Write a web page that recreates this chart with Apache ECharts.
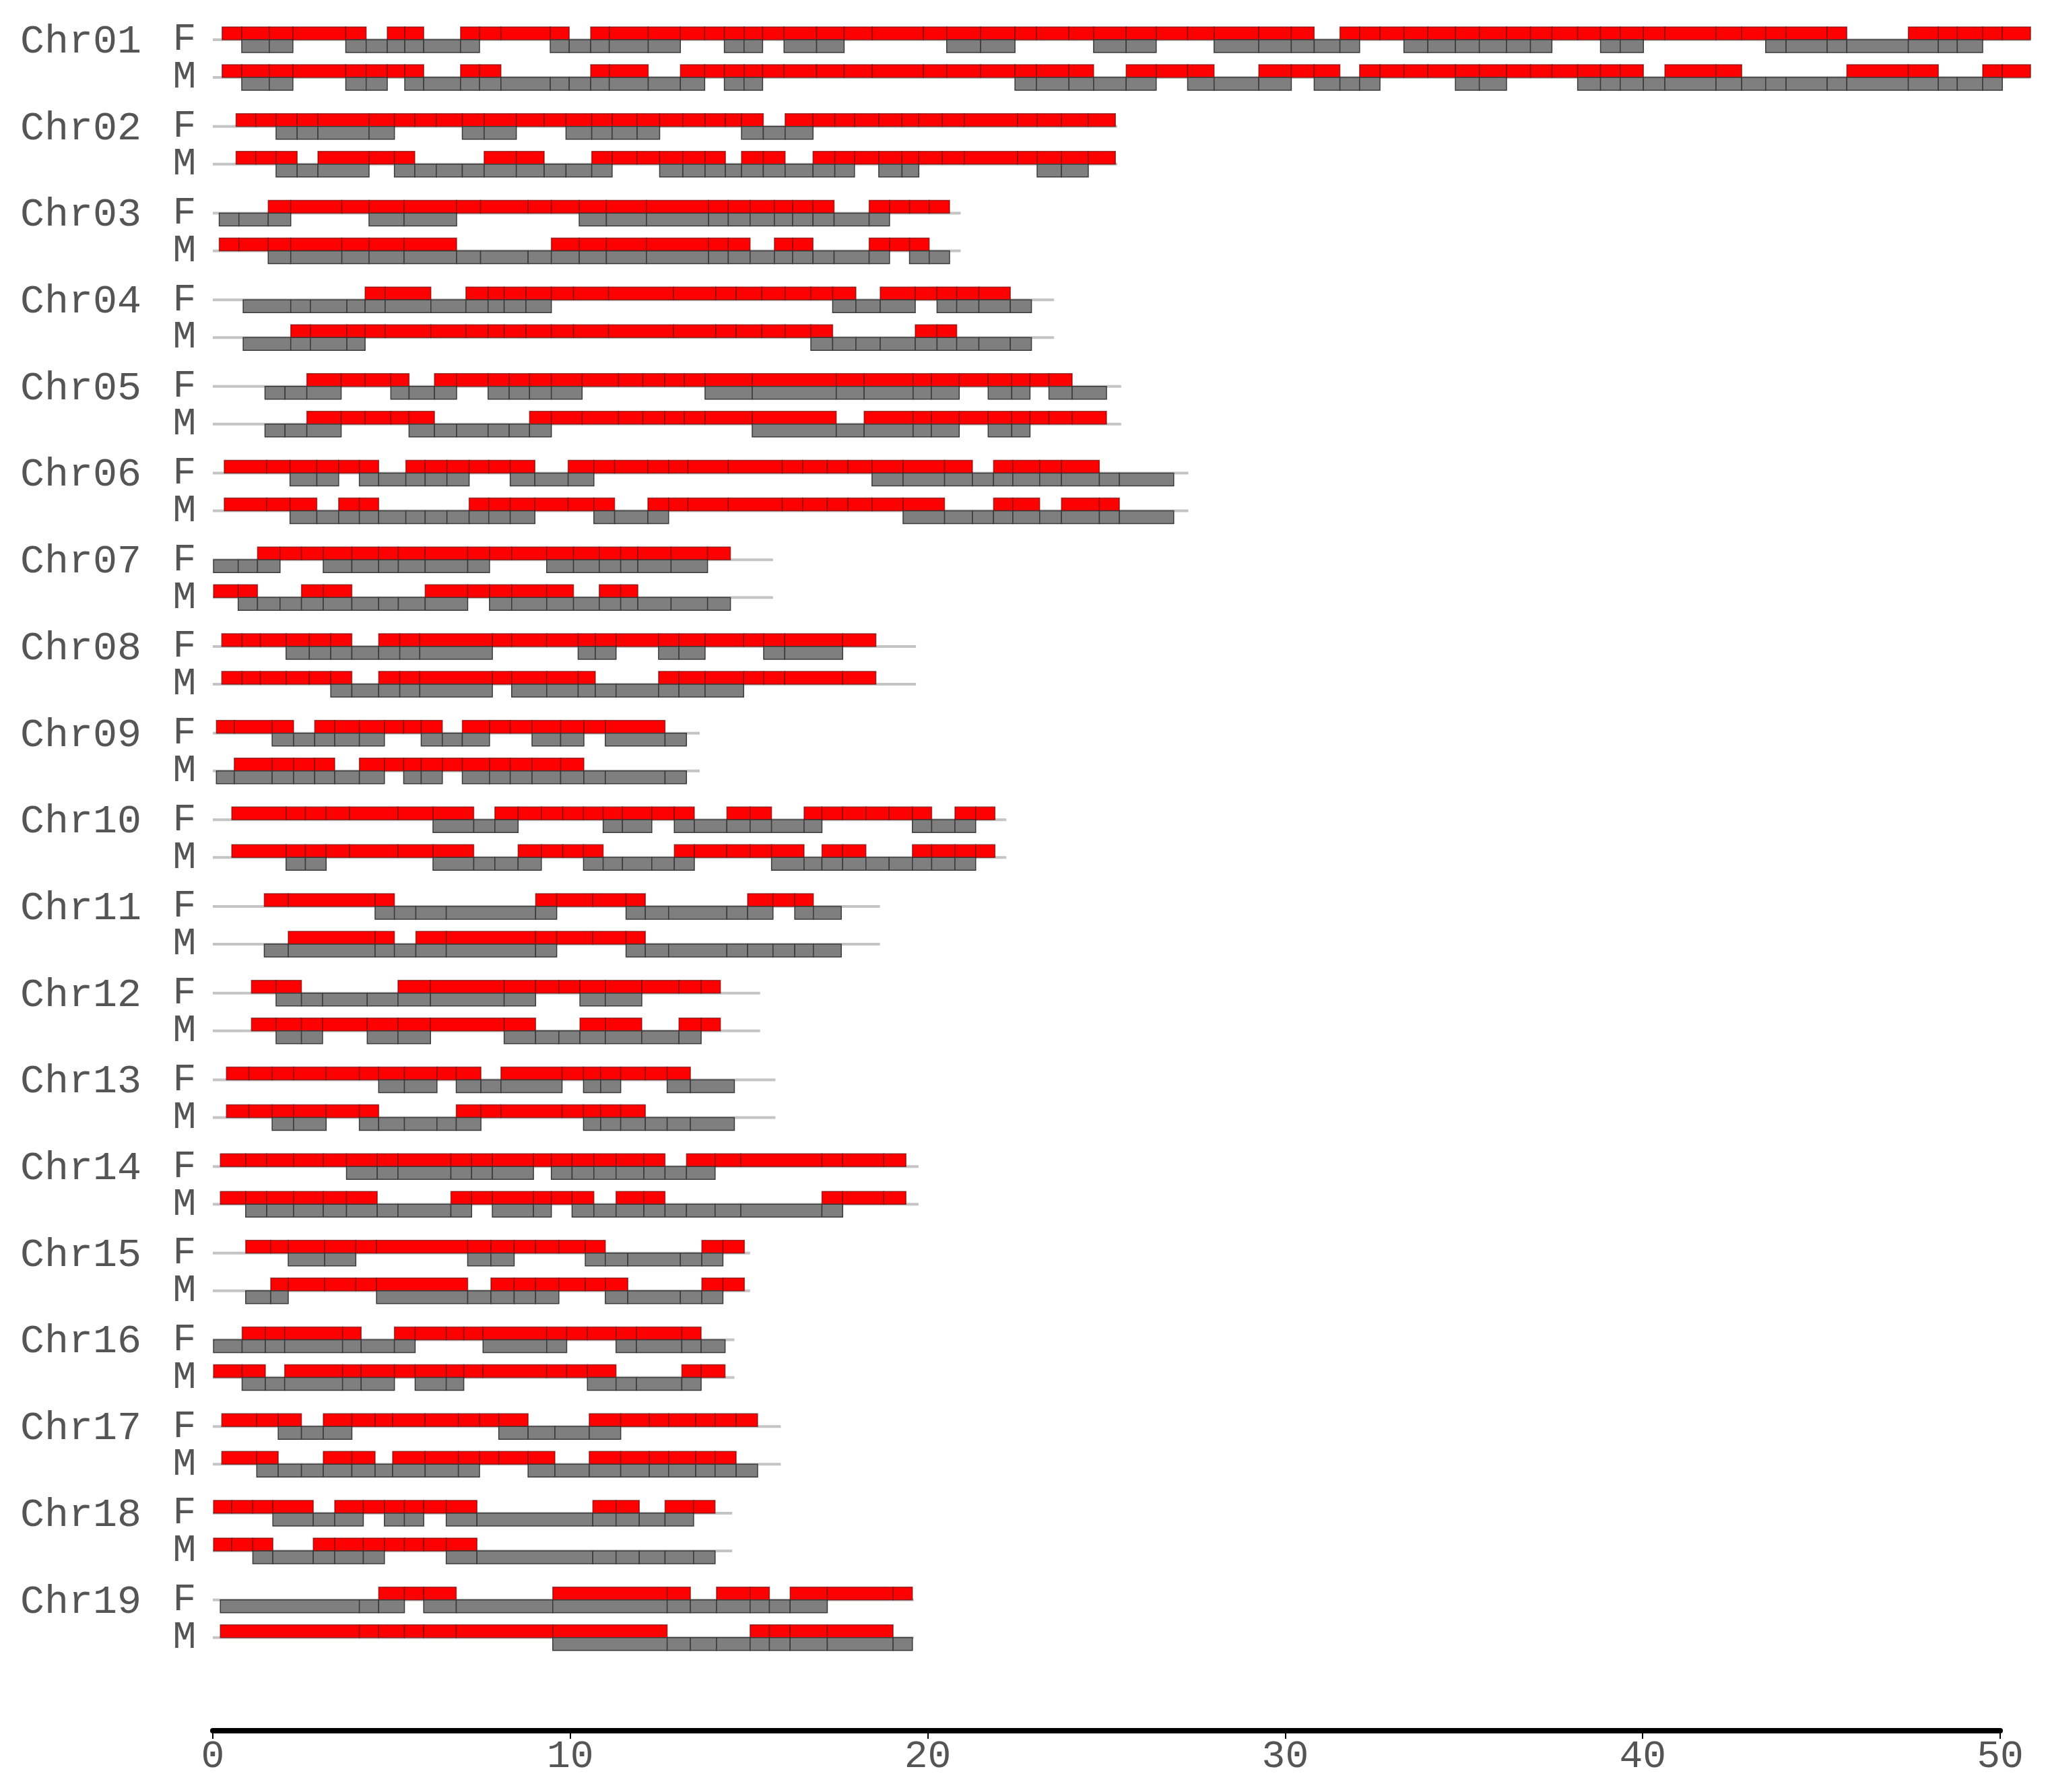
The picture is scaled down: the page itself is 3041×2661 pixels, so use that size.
<!DOCTYPE html>
<html>
<head>
<meta charset="utf-8">
<script src="https://cdn.jsdelivr.net/npm/echarts@6/dist/echarts.min.js"></script>
<style>
html, body { margin: 0; padding: 0; background: #fff; }
#main { width: 3041px; height: 2661px; }
</style>
</head>
<body>
<div id="main"></div>
<script>
// chromosome names and physical length (Mb)
var chromosomes = ['Chr01','Chr02','Chr03','Chr04','Chr05','Chr06','Chr07','Chr08','Chr09','Chr10',
                   'Chr11','Chr12','Chr13','Chr14','Chr15','Chr16','Chr17','Chr18','Chr19'];
var chrLength = [50.85, 25.3, 20.92, 23.53, 25.41, 27.29, 15.67, 19.67, 13.62, 22.2,
                 18.66, 15.31, 15.74, 19.74, 15.03, 14.59, 15.89, 14.53, 19.61];

// bin boundaries (Mb) for each chromosome
var binEdges = [
  [0.26,0.81,1.58,2.24,3.72,4.29,4.88,5.37,5.90,6.93,7.46,8.06,9.44,9.97,10.57,11.09,12.18,13.08,13.76,14.31,14.86,15.38,15.98,16.89,17.66,18.45,19.88,20.53,21.48,22.44,23.04,23.95,24.64,25.55,26.39,27.27,28.01,29.26,30.17,30.81,31.53,32.08,32.65,33.32,33.99,34.76,35.43,36.19,36.86,37.46,38.18,38.82,39.37,40.02,40.62,42.05,42.77,43.44,44.01,45.16,45.71,47.43,48.27,48.80,49.51,50.06,50.85],
  [0.65,1.20,1.77,2.36,2.94,4.37,5.08,5.65,6.25,6.98,7.59,8.49,9.27,9.88,10.60,11.17,11.87,12.50,13.15,13.77,14.34,14.79,15.40,16.01,16.79,17.40,17.95,18.63,19.28,19.75,20.41,21.02,22.51,23.06,23.74,24.49,25.25],
  [0.18,0.73,1.55,2.18,3.61,4.37,5.35,6.82,7.49,8.82,9.47,10.25,11.01,12.13,13.87,14.42,15.03,15.71,16.22,16.79,17.38,18.36,18.93,19.49,20.04,20.61],
  [0.85,2.18,2.73,3.75,4.26,4.82,6.10,7.08,7.70,8.15,8.76,9.47,10.09,11.07,12.89,14.07,14.64,15.36,16.01,16.73,17.34,17.99,18.67,19.65,20.26,20.81,21.43,22.31,22.90],
  [1.46,2.02,2.63,3.59,4.26,4.98,5.49,6.20,6.82,7.70,8.29,8.86,9.47,10.33,11.35,12.03,12.64,13.19,13.77,15.09,17.44,18.22,19.59,20.10,20.88,21.69,22.35,22.86,23.39,24.04,25.00],
  [0.32,1.51,2.16,2.91,3.52,4.10,4.64,5.40,5.94,6.55,7.17,7.72,8.32,9.01,9.94,10.66,11.24,12.17,12.75,13.29,14.42,15.93,16.50,17.19,17.77,18.44,19.31,20.47,21.25,21.84,22.38,23.13,23.74,24.80,25.36,26.88],
  [0.02,0.71,1.25,1.88,2.48,3.09,3.89,4.64,5.19,5.94,7.13,7.74,8.36,9.34,10.09,10.81,11.41,11.89,12.82,13.84,14.48],
  [0.25,0.82,1.33,2.05,2.70,3.30,3.89,4.64,5.23,5.79,7.82,8.36,9.34,10.22,10.70,11.28,12.47,13.04,13.77,14.85,15.41,16.00,17.62,18.55],
  [0.10,0.60,1.66,2.26,2.85,3.41,4.10,4.80,5.34,5.83,6.42,6.98,7.74,8.32,8.93,9.73,10.38,10.98,12.65,13.25],
  [0.53,2.05,2.59,3.17,3.82,5.18,6.16,7.30,7.89,8.54,9.19,9.79,10.37,10.92,11.46,12.28,12.91,13.47,14.38,15.03,15.63,16.54,17.04,17.62,18.27,18.92,19.57,20.11,20.76,21.34,21.88],
  [1.44,2.11,4.54,5.08,5.68,6.53,9.03,9.62,10.63,11.56,12.10,12.75,14.38,14.96,15.67,16.28,16.80,17.58],
  [1.08,1.77,2.48,3.07,4.32,5.18,6.09,8.15,9.03,9.68,10.27,10.98,12.00,13.04,13.66,14.20],
  [0.38,1.01,1.66,2.26,3.17,4.10,4.64,5.36,6.27,6.81,7.50,8.06,9.77,10.37,10.85,11.41,12.10,12.71,13.36,14.59],
  [0.21,0.92,1.51,2.26,3.09,3.74,4.60,5.18,6.66,7.24,7.82,8.97,9.47,10.05,10.66,11.28,12.06,12.65,13.25,14.05,14.77,17.04,17.62,18.77,19.39],
  [0.92,1.62,2.11,3.13,4.00,4.58,7.13,7.78,8.43,9.03,9.68,10.42,10.98,11.61,13.08,13.68,14.27,14.87],
  [0.02,0.82,1.47,2.01,3.63,4.15,5.08,5.66,6.53,7.02,7.56,9.34,9.90,10.48,11.28,11.85,13.12,13.66,14.33],
  [0.25,1.23,1.83,2.48,3.09,3.89,4.54,5.03,5.94,6.87,7.46,8.00,8.82,9.57,10.53,11.41,12.21,12.75,13.51,14.05,14.64,15.24],
  [0.02,0.53,1.12,1.68,2.81,3.41,4.21,4.80,5.36,5.90,6.53,7.39,10.63,11.28,11.93,12.65,13.45,14.05],
  [0.21,4.10,4.64,5.36,5.90,6.81,9.51,12.71,13.36,14.09,15.03,15.57,16.15,17.19,19.03,19.57]
];

// genotype per bin: R = red only, G = grey only, B = both
var femaleBins = [
  'RBBRBGBBGBRRBGBBBRRBBRBBRRRBBRRRBBRRBBBGBRRBBBBBBRRBBRRRRBBBGBBBRR',
  'RRBBBBRRRBBRRBBBBRRRRBGBRRRRRRRRRRRR',
  'GGBRRBBRRRRBBBBBBBBBGBRRR',
  'GGGGBBGBBBBRRRRRRRRRBGBRBBBG',
  'GGBRRBGBRBBBBRRRRRBBBBBBRBBRBG',
  'RRBBRBGBBBRRBGBRRRRRRRRRRBBBGBBBBGG',
  'GGBRRBBBBBBRRBBBBBBR',
  'RRRBBBGBBBRRRBBRBBRRBBR',
  'RRBGBBBRRBGBRRBBRBG',
  'RRRRRRBGBRRRRBBRBGBBGBRRRRBGBR',
  'RRBGGGBRRBGGGBRBG',
  'RBGGGBBBRRBBRRR',
  'RRRRRRBBRBGBRBBRRBG',
  'RRRRRBBBBBBRBBBBBGBRRRRR',
  'RRBBRRBBRRRBGGGBR',
  'GBBBBGBRRRBBRRBBBG',
  'RRBGBRRRRRRBGGBRRRRRR',
  'RRRBGBRBBRBGBBGBR',
  'GGBRBGBBGBBGBRR'
];
var maleBins = [
  'RBBRBBRBGBBGGGBBGBRBBRRRRRRRRBBBGBRBGBRBGBRRRBBRRRBBBGBBGGGGBBGGBR',
  'RRBGBRBGGGBBGGBRRBBBGBBGBBRBBRRRRBBR',
  'RRBBBBBGGGBBBBBBGBBGGBRBG',
  'GBBBRRRRRRRRRRRRRRRBGGGBBGGG',
  'GGBRRRBGGGGBRRRRRRRBGBBBRBBRRR',
  'RRBGBBGGGGBBBRRBGBRRRRRRRRBGGBBGBBG',
  'RBGGBBGGGBRBBBGBBGGG',
  'RRRRRBGBBBRBBBGGBBBRRRR',
  'GBBBBGBRBBRBBBBBGGG',
  'RBBRRRBGGBRRBGGGBRRRBGBBGGBBBR',
  'GBBGBBBRRBGGGGGGG',
  'RBBRBBRBGGBBGBR',
  'RRBBRBGGGBRRRBBBGGG',
  'RBBBBBGGBRBBRBGBBGGGGBRR',
  'GBRRRBGBBBRRBGGBR',
  'RBGBBBRBBRRRRBGGBR',
  'RBGGBBGBBBRRBGBBBBBBG',
  'RRBGBBBRRRBGGGGGG',
  'RRRRRRBGGGBBBBG'
];

var xTicks = [0, 10, 20, 30, 40, 50];

var rowGap = 0.435; // M row sits under the F row
var lineData = [], blockData = [], sexData = [], nameData = [];
chromosomes.forEach(function (name, i) {
  nameData.push([0, i]);
  [femaleBins[i], maleBins[i]].forEach(function (geno, r) {
    var y = i + r * rowGap;
    lineData.push([0, chrLength[i], y]);
    sexData.push([0, y, r]);
    var e = binEdges[i];
    for (var k = 0; k < geno.length && k < e.length - 1; k++) {
      var g = geno.charAt(k);
      if (g === 'R' || g === 'B') blockData.push([e[k], e[k + 1], y, 1]);
      if (g === 'G' || g === 'B') blockData.push([e[k], e[k + 1], y, -1]);
    }
  });
});

var dom = document.getElementById('main');
var myChart = echarts.init(dom);
var monoFont = '"Liberation Mono", "Courier New", monospace';

var option = {
  animation: false,
  backgroundColor: '#fff',
  grid: { left: 316, right: 71, top: 14, bottom: 91 },
  xAxis: {
    type: 'value',
    position: 'bottom',
    min: 0,
    max: 50,
    interval: 10,
    axisLine: { show: true, onZero: false, lineStyle: { color: '#000', width: 8 } },
    axisTick: { show: true, length: 12, lineStyle: { color: '#000', width: 2 } },
    axisLabel: {
      margin: 10,
      fontSize: 58,
      fontFamily: monoFont,
      color: '#555',
      formatter: function (v) { return xTicks.indexOf(v) >= 0 ? String(v) : ''; }
    },
    splitLine: { show: false }
  },
  yAxis: {
    type: 'value',
    inverse: true,
    min: -0.35,
    max: 19.51,
    show: false
  },
  series: [
    {
      // chromosome backbone
      type: 'custom',
      clip: false,
      z: 1,
      data: lineData,
      encode: { x: [0, 1], y: 2 },
      renderItem: function (params, api) {
        var p0 = api.coord([api.value(0), api.value(2)]);
        var p1 = api.coord([api.value(1), api.value(2)]);
        return {
          type: 'rect',
          shape: { x: p0[0], y: p0[1] - 2, width: p1[0] - p0[0], height: 4 },
          style: { fill: '#c4c4c4' }
        };
      }
    },
    {
      // haplotype bins
      type: 'custom',
      clip: false,
      z: 2,
      data: blockData,
      encode: { x: [0, 1], y: 2 },
      renderItem: function (params, api) {
        var side = api.value(3);
        var p0 = api.coord([api.value(0), api.value(2)]);
        var p1 = api.coord([api.value(1), api.value(2)]);
        var h = 19;
        return {
          type: 'rect',
          shape: { x: p0[0], y: side > 0 ? p0[1] - h : p0[1], width: p1[0] - p0[0], height: h },
          style: side > 0
            ? { fill: '#ff0000', stroke: 'rgba(90,0,0,0.6)', lineWidth: 1.5 }
            : { fill: '#7f7f7f', stroke: '#3a3a3a', lineWidth: 1.5 }
        };
      }
    },
    {
      // chromosome names
      type: 'custom',
      clip: false,
      z: 3,
      data: nameData,
      encode: { x: 0, y: 1 },
      renderItem: function (params, api) {
        var p = api.coord([0, api.value(1)]);
        return {
          type: 'text',
          x: 30,
          y: p[1] + 3,
          style: {
            text: chromosomes[params.dataIndex],
            fontSize: 60,
            fontFamily: monoFont,
            fill: '#555',
            align: 'left',
            verticalAlign: 'middle'
          }
        };
      }
    },
    {
      // F / M row labels
      type: 'custom',
      clip: false,
      z: 3,
      data: sexData,
      encode: { x: 0, y: 1 },
      renderItem: function (params, api) {
        var p = api.coord([0, api.value(1)]);
        return {
          type: 'text',
          x: 274,
          y: p[1],
          style: {
            text: api.value(2) === 0 ? 'F' : 'M',
            fontSize: 58,
            fontFamily: monoFont,
            fill: '#555',
            align: 'center',
            verticalAlign: 'middle'
          }
        };
      }
    }
  ]
};
myChart.setOption(option, true);
</script>
</body>
</html>
